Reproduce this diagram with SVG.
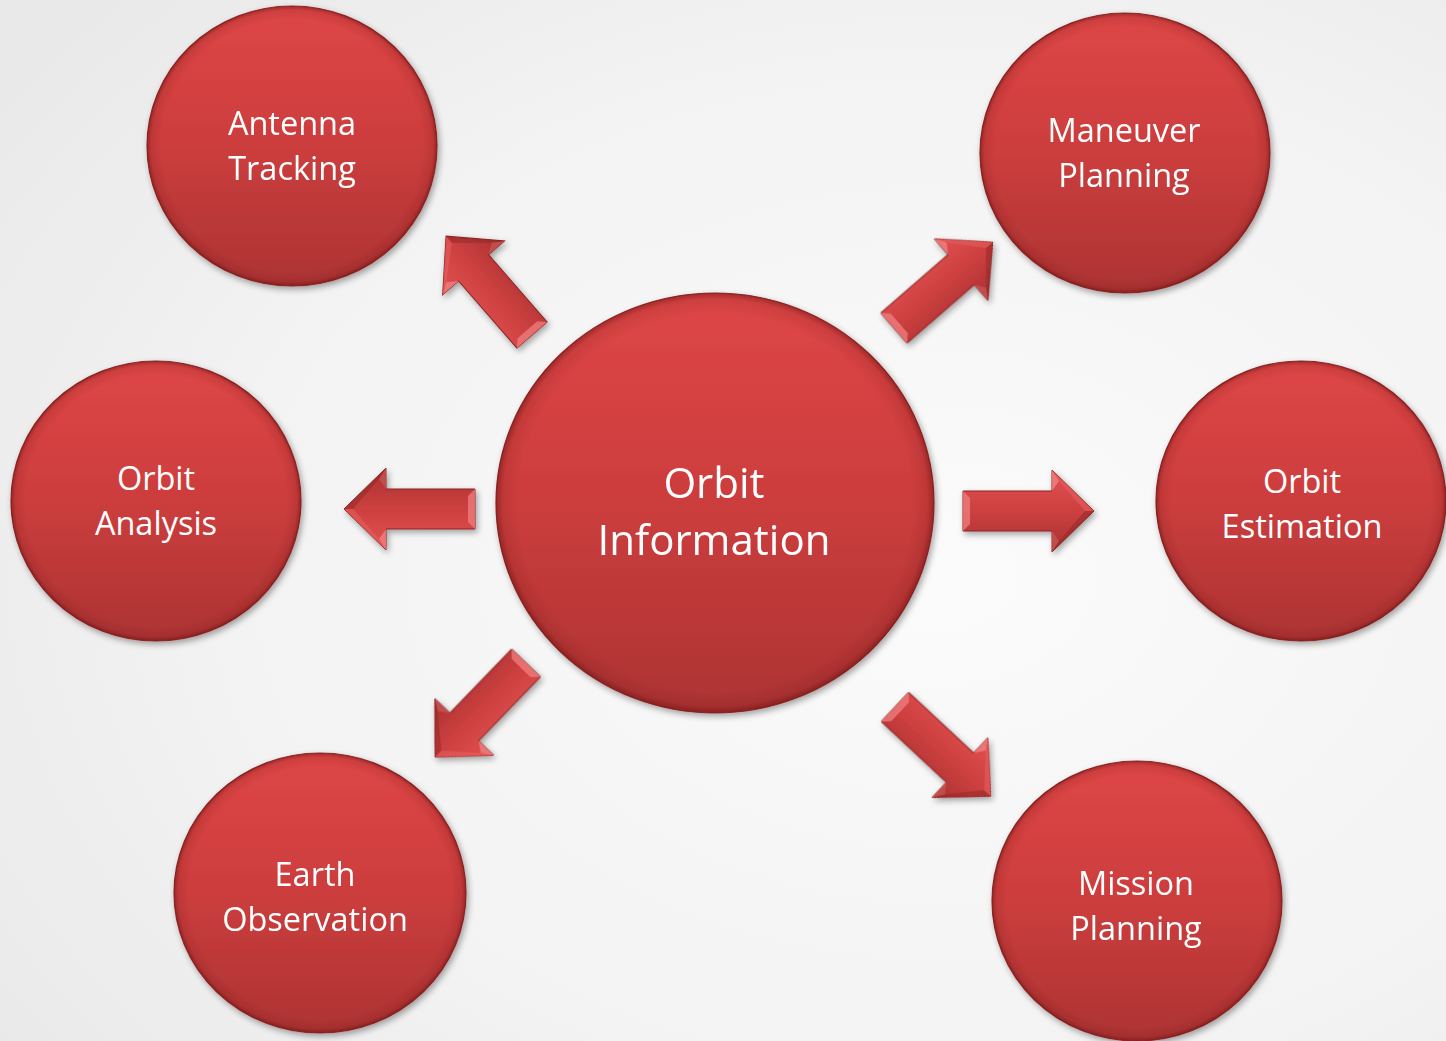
<svg xmlns="http://www.w3.org/2000/svg" xmlns:xlink="http://www.w3.org/1999/xlink" width="1446" height="1041" viewBox="0 0 1446 1041">
  <defs>
    <radialGradient id="bg" cx="0.65" cy="0.55" r="0.8">
      <stop offset="0" stop-color="#fbfbfb"/>
      <stop offset="0.6" stop-color="#f3f3f3"/>
      <stop offset="1" stop-color="#e9e9e9"/>
    </radialGradient>
    <linearGradient id="ballFill" x1="0" y1="0" x2="0" y2="1">
      <stop offset="0" stop-color="#de4646"/>
      <stop offset="0.5" stop-color="#cc3d3d"/>
      <stop offset="1" stop-color="#ad3333"/>
    </linearGradient>
    <radialGradient id="ballRim" cx="0.5" cy="0.5" r="0.5">
      <stop offset="0.9" stop-color="#5a0a0a" stop-opacity="0"/>
      <stop offset="0.97" stop-color="#5a0a0a" stop-opacity="0.12"/>
      <stop offset="1" stop-color="#5a0a0a" stop-opacity="0.45"/>
    </radialGradient>
    <linearGradient id="arrowFill" gradientUnits="userSpaceOnUse" x1="0" y1="-41" x2="0" y2="41">
      <stop offset="0" stop-color="#e25050"/>
      <stop offset="0.5" stop-color="#cd4040"/>
      <stop offset="1" stop-color="#a93030"/>
    </linearGradient>
    <filter id="shadow" x="-20%" y="-20%" width="140%" height="140%">
      <feDropShadow dx="2" dy="3" stdDeviation="3" flood-color="#000" flood-opacity="0.35"/>
    </filter>
    <g id="arrow">
      <path d="M0,-20 H89 V-41 L131,0 L89,41 V20 H0 Z" fill="url(#arrowFill)" stroke="#8c2424" stroke-width="1"/>
      <path d="M0,-20 L7,-13 L7,13 L0,20 Z" fill="#ef7a7a" opacity="0.8"/>
      <path d="M89,-41 L96,-30 L89,-20 Z" fill="#f08080" opacity="0.8"/>
      <path d="M89,41 L96,30 L89,20 Z" fill="#c65555" opacity="0.8"/>
      <path d="M131,0 L122,0 L96,-30 L89,-41 Z" fill="#e86262" opacity="0.5"/>
      <path d="M131,0 L122,0 L96,30 L89,41 Z" fill="#8e2626" opacity="0.5"/>
    </g>
  </defs>
  <style>
    .ball { fill: url(#ballFill); stroke: #962a2a; stroke-width: 1.2; }
    .rim { fill: url(#ballRim); }
    .lbl { font-family: "Open Sans", "Noto Sans", sans-serif; fill: #ffffff; text-anchor: middle; }
    .s { font-size: 32.5px; }
    .c { font-size: 42px; }
  </style>

  <rect x="0" y="0" width="1446" height="1041" fill="url(#bg)"/>

  <g id="connectors" filter="url(#shadow)">
    <use xlink:href="#arrow" transform="translate(532,335) rotate(-131)"/>
    <use xlink:href="#arrow" transform="translate(894,328) rotate(-41)"/>
    <use xlink:href="#arrow" transform="translate(475,509) rotate(180)"/>
    <use xlink:href="#arrow" transform="translate(963,511)"/>
    <use xlink:href="#arrow" transform="translate(526,663) rotate(134)"/>
    <use xlink:href="#arrow" transform="translate(895,707) rotate(43)"/>
  </g>

  <g id="orbit-information">
    <ellipse cx="715" cy="503" rx="219" ry="210" class="ball" filter="url(#shadow)"/>
    <ellipse cx="715" cy="503" rx="219" ry="210" class="rim"/>
    <text class="lbl c" x="714" y="498">Orbit</text>
    <text class="lbl c" x="714" y="555">Information</text>
  </g>

  <g id="antenna-tracking">
    <ellipse cx="292" cy="146" rx="145" ry="140" class="ball" filter="url(#shadow)"/>
    <ellipse cx="292" cy="146" rx="145" ry="140" class="rim"/>
    <text class="lbl s" x="292" y="135">Antenna</text>
    <text class="lbl s" x="292" y="180">Tracking</text>
  </g>

  <g id="maneuver-planning">
    <ellipse cx="1125" cy="153" rx="145" ry="140" class="ball" filter="url(#shadow)"/>
    <ellipse cx="1125" cy="153" rx="145" ry="140" class="rim"/>
    <text class="lbl s" x="1124" y="142">Maneuver</text>
    <text class="lbl s" x="1124" y="187">Planning</text>
  </g>

  <g id="orbit-analysis">
    <ellipse cx="156" cy="501" rx="145" ry="140" class="ball" filter="url(#shadow)"/>
    <ellipse cx="156" cy="501" rx="145" ry="140" class="rim"/>
    <text class="lbl s" x="156" y="490">Orbit</text>
    <text class="lbl s" x="156" y="535">Analysis</text>
  </g>

  <g id="orbit-estimation">
    <ellipse cx="1301" cy="501" rx="145" ry="140" class="ball" filter="url(#shadow)"/>
    <ellipse cx="1301" cy="501" rx="145" ry="140" class="rim"/>
    <text class="lbl s" x="1302" y="493">Orbit</text>
    <text class="lbl s" x="1302" y="538">Estimation</text>
  </g>

  <g id="earth-observation">
    <ellipse cx="320" cy="893" rx="146" ry="140" class="ball" filter="url(#shadow)"/>
    <ellipse cx="320" cy="893" rx="146" ry="140" class="rim"/>
    <text class="lbl s" x="315" y="886">Earth</text>
    <text class="lbl s" x="315" y="931">Observation</text>
  </g>

  <g id="mission-planning">
    <ellipse cx="1137" cy="901" rx="145" ry="140" class="ball" filter="url(#shadow)"/>
    <ellipse cx="1137" cy="901" rx="145" ry="140" class="rim"/>
    <text class="lbl s" x="1136" y="895">Mission</text>
    <text class="lbl s" x="1136" y="940">Planning</text>
  </g>
</svg>
